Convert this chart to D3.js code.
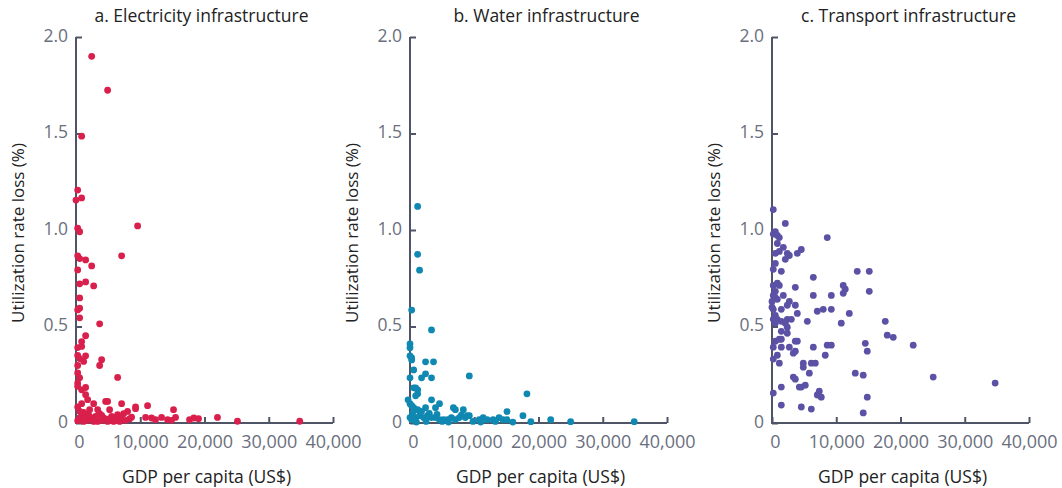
<!DOCTYPE html>
<html>
<head>
<meta charset="utf-8">
<script src="https://cdn.jsdelivr.net/npm/d3@7"></script>
<style>
  html, body { margin: 0; padding: 0; background: #ffffff; }
  svg { display: block; }
  text { font-family: "Open Sans", "Noto Sans", sans-serif; }
</style>
</head>
<body>
<svg id="chart" width="1062" height="488"></svg>
<script>
// ---- Data (GDP per capita US$, utilization rate loss %) ----
const panelTitles = ["a. Electricity infrastructure", "b. Water infrastructure", "c. Transport infrastructure"];
const xTickValues = [0, 10000, 20000, 30000, 40000];
const xTickLabels = ["0", "10,000", "20,000", "30,000", "40,000"];
const yTickValues = [0, 0.5, 1.0, 1.5, 2.0];
const yTickLabels = ["0", "0.5", "1.0", "1.5", "2.0"];
const xAxisTitle = "GDP per capita (US$)";
const yAxisTitle = "Utilization rate loss (%)";

const electricity = [
  [2440,1.90],[4920,1.724],[880,1.486],[260,1.207],[0,1.155],[880,1.166],[260,1.009],[570,0.991],
  [9590,1.021],[260,0.866],[570,0.852],[1500,0.845],[2440,0.814],[7100,0.866],[260,0.793],[570,0.721],
  [1500,0.731],[2750,0.71],[570,0.648],[570,0.595],[260,0.586],[570,0.545],[3680,0.514],[1500,0.452],
  [880,0.422],[880,0.397],[260,0.391],[260,0.35],[1500,0.348],[570,0.334],[1190,0.319],[3990,0.328],
  [3680,0.298],[260,0.298],[260,0.259],[570,0.234],[260,0.207],[260,0.19],[6480,0.236],[1500,0.184],
  [880,0.172],[1500,0.147],[1810,0.121],[260,0.083],[880,0.10],[2750,0.10],[4610,0.112],[4920,0.112],
  [7100,0.10],[9270,0.083],[9270,0.074],[11140,0.09],[15180,0.069],[5230,0.069],[2120,0.069],[3370,0.069],
  [8030,0.06],[7410,0.048],[6480,0.043],[6170,0.029],[5540,0.034],[4300,0.026],[3680,0.048],[3060,0.034],
  [2440,0.026],[1500,0.043],[880,0.034],[570,0.026],[8340,0.021],[10830,0.029],[11760,0.026],[12380,0.017],
  [13320,0.029],[14250,0.017],[14870,0.014],[15490,0.029],[17670,0.017],[18340,0.026],[19070,0.022],
  [22020,0.029],[25130,0.009],[34820,0.009],[260,0.012],[1190,0.008],[1810,0.014],[2750,0.008],[3370,0.008],
  [3990,0.014],[4920,0.008],[5850,0.008],[6790,0.008],[7720,0.014],[8650,0.03],[1200,0.055],[2000,0.04],
  [600,0.06],[4000,0.04],[5000,0.02],[7000,0.025],[6000,0.015],[3000,0.018]
];

const water = [
  [1190,1.122],[1190,0.874],[1490,0.792],[260,0.585],[3350,0.482],[0,0.41],[0,0.39],[0,0.348],
  [260,0.337],[260,0.327],[2420,0.317],[3660,0.317],[570,0.275],[0,0.234],[1800,0.234],[2420,0.255],
  [3350,0.234],[9230,0.244],[570,0.182],[880,0.182],[1190,0.172],[1190,0.151],[880,0.141],[18200,0.151],
  [-300,0.12],[0,0.10],[3350,0.12],[4590,0.10],[3970,0.079],[260,0.09],[570,0.079],[1190,0.069],
  [2420,0.079],[6750,0.079],[7060,0.069],[8300,0.069],[7990,0.041],[8920,0.038],[15100,0.059],[17580,0.038],
  [18810,0.007],[21900,0.017],[25000,0.007],[34900,0.007],[0,0.028],[260,0.017],[880,0.028],[1490,0.038],
  [2110,0.028],[2730,0.038],[3350,0.028],[3970,0.028],[4590,0.017],[5200,0.017],[5820,0.017],[6440,0.028],
  [7060,0.017],[7680,0.028],[8610,0.028],[9230,0.038],[10770,0.017],[11390,0.028],[12010,0.017],[12940,0.017],
  [13860,0.028],[14480,0.017],[15100,0.017],[400,0.05],[1800,0.06],[3000,0.05],[5000,0.008],[6000,0.005],
  [9800,0.008],[11000,0.005],[2500,0.008],[1000,0.005],[4200,0.045],[13300,0.008],[16000,0.005]
];

const transport = [
  [200,1.106],[2070,1.034],[520,0.992],[200,0.979],[830,0.972],[1140,0.961],[8600,0.961],[830,0.93],
  [1760,0.91],[1140,0.889],[520,0.879],[4560,0.899],[3940,0.879],[2380,0.879],[2700,0.868],[2070,0.848],
  [520,0.827],[200,0.796],[1450,0.786],[13270,0.786],[15140,0.786],[6430,0.755],[200,0.713],[830,0.724],
  [1140,0.713],[3630,0.703],[11090,0.713],[11400,0.693],[15140,0.682],[520,0.682],[200,0.661],[1760,0.661],
  [6430,0.661],[9230,0.661],[11090,0.672],[830,0.641],[520,0.651],[0,0.63],[2700,0.63],[2380,0.61],
  [3630,0.61],[0,0.60],[200,0.589],[1450,0.589],[9230,0.589],[7980,0.589],[7050,0.579],[3940,0.568],
  [12030,0.568],[520,0.558],[200,0.537],[830,0.537],[2380,0.537],[3010,0.537],[5500,0.527],[520,0.517],
  [1450,0.527],[2070,0.517],[17630,0.527],[10780,0.517],[2380,0.496],[1450,0.475],[2380,0.465],[17940,0.455],
  [18870,0.444],[520,0.424],[1140,0.434],[1450,0.434],[3630,0.424],[3940,0.424],[14520,0.413],[21980,0.403],
  [8600,0.403],[9230,0.403],[200,0.393],[1450,0.393],[2700,0.393],[6430,0.393],[3630,0.372],[3320,0.362],
  [14830,0.372],[830,0.351],[8290,0.351],[200,0.331],[1140,0.31],[4870,0.31],[4870,0.289],[6120,0.31],
  [6740,0.31],[5810,0.258],[12960,0.258],[14200,0.248],[25090,0.238],[3320,0.238],[3630,0.227],[34730,0.207],
  [5180,0.196],[4560,0.186],[4250,0.186],[1450,0.186],[7360,0.165],[7050,0.145],[7670,0.134],[200,0.155],
  [14830,0.134],[1450,0.093],[4560,0.083],[6120,0.072],[14200,0.052]
];

const seriesData = [electricity, water, transport];
const seriesColors = ["#d91f4b", "#0f88b2", "#5b51a5"];

// ---- Layout ----
const svg = d3.select("#chart");
const axisLefts = [76, 410, 772];
const plotWidth = 257;
const yTop = 37, yBottom = 423;
const axisColor = "#4f5566";
const tickTextColor = "#6a6f7e";

const y = d3.scaleLinear().domain([0, 2]).range([yBottom, yTop]);

panelTitles.forEach((title, i) => {
  const left = axisLefts[i];
  const x = d3.scaleLinear().domain([0, 40000]).range([left, left + plotWidth]);
  const g = svg.append("g");

  // x axis
  const xAxis = d3.axisBottom(x).tickValues(xTickValues)
    .tickFormat((d, k) => xTickLabels[k]).tickSizeInner(-6).tickSizeOuter(0).tickPadding(12);
  const gx = g.append("g").attr("transform", `translate(0,${yBottom})`).call(xAxis);
  gx.select(".domain").attr("stroke", axisColor).attr("stroke-width", 2).attr("d", `M${left},0H${left + plotWidth}`);
  gx.selectAll(".tick line").attr("stroke", axisColor).attr("stroke-width", 2);
  gx.selectAll(".tick text").attr("fill", tickTextColor).attr("font-size", 18)
    .attr("font-family", "'Open Sans', sans-serif")
    .attr("dx", d => d === 0 ? 3 : 0);

  // y axis
  const yAxis = d3.axisLeft(y).tickValues(yTickValues)
    .tickFormat((d, k) => yTickLabels[k]).tickSizeInner(-6).tickSizeOuter(0).tickPadding(8);
  const gy = g.append("g").attr("transform", `translate(${left},0)`).call(yAxis);
  gy.select(".domain").attr("stroke", axisColor).attr("stroke-width", 2).attr("d", `M0,${yTop}V${yBottom + 1}`);
  gy.selectAll(".tick line").attr("stroke", axisColor).attr("stroke-width", 2);
  gy.selectAll(".tick text").attr("fill", tickTextColor).attr("font-size", 17.5)
    .attr("font-family", "'Open Sans', sans-serif").attr("dy", "0.25em");

  // points
  g.append("g").selectAll("circle").data(seriesData[i]).join("circle")
    .attr("cx", d => x(d[0]))
    .attr("cy", d => y(d[1]))
    .attr("r", 3.4)
    .attr("fill", seriesColors[i]);

  // title
  g.append("text")
    .attr("x", left + plotWidth / 2 + (i === 0 ? -3 : 8))
    .attr("y", 22)
    .attr("text-anchor", "middle")
    .attr("font-size", 17.5)
    .attr("fill", "#222")
    .text(title);

  // x axis title
  g.append("text")
    .attr("x", left + plotWidth / 2 + 2)
    .attr("y", 483)
    .attr("text-anchor", "middle")
    .attr("font-size", 17.5)
    .attr("fill", "#222")
    .text(xAxisTitle);

  // y axis title
  g.append("text")
    .attr("transform", `translate(${left - 52},${233}) rotate(-90)`)
    .attr("text-anchor", "middle")
    .attr("font-size", 17)
    .attr("fill", "#222")
    .text(yAxisTitle);
});
</script>
</body>
</html>
